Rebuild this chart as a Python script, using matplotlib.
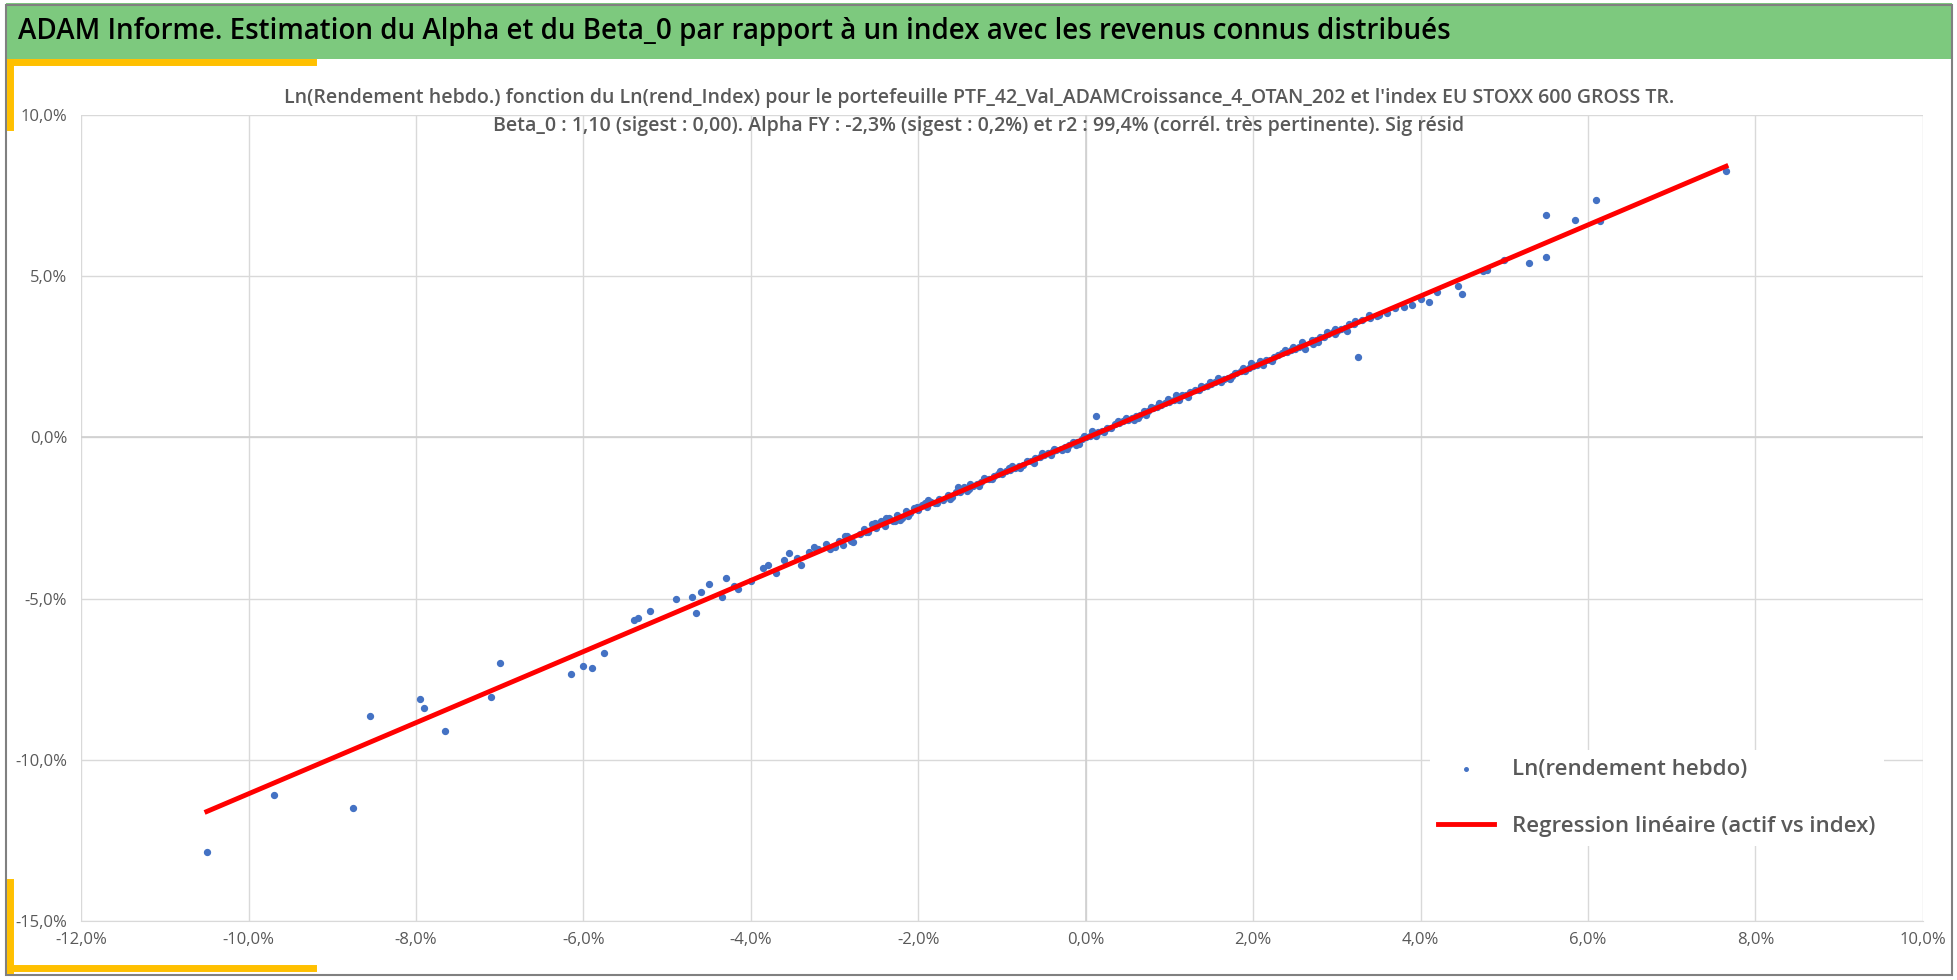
import matplotlib
matplotlib.use("Agg")
import matplotlib.pyplot as plt
from matplotlib.ticker import FuncFormatter
from matplotlib.patches import Rectangle
from matplotlib.lines import Line2D

plt.rcParams['font.family'] = ['Liberation Sans Narrow', 'Open Sans', 'DejaVu Sans']

# points (en %)
index_x = [-10.5, -9.7, -8.75, -8.55, -7.95, -7.9, -7.65, -7.1, -7.0, -6.15, -6.0, -5.9, -5.75,
           -5.4, -5.35, -5.2, -4.9, -4.7, -4.65, -4.6, -4.5, -4.35, -4.3, -4.2, -4.15, -4.0,
           -3.85, -3.8, -3.7, -3.6, -3.55, -3.45, -3.4, -3.3, -3.2, -3.1, -3.05, -2.95, -2.9,
           -2.85, -2.8, -2.7, -2.65, -2.6, -2.55, -2.5, -2.45, -2.4, -2.35, -2.3, -2.25, -2.2,
           -2.15, -2.1, -2.05, -2.0, -1.95, -1.9, -1.85, -1.8, -1.75, -1.7, -1.65, -1.6, -1.55,
           -1.5, -1.45, -1.4, -1.35, -1.3, -1.25, -1.2, -1.15, -1.1, -1.05, -1.0, -0.95, -0.9,
           -0.85, -0.8, -0.75, -0.7, -0.65, -0.6, -0.55, -0.5, -0.45, -0.4, -0.35, -0.3, -0.25,
           -0.2, -0.15, -0.1, -0.05, 0.0, 0.05, 0.1, 0.15, 0.2, 0.25, 0.3, 0.35, 0.4, 0.45, 0.5,
           0.55, 0.6, 0.65, 0.7, 0.75, 0.8, 0.85, 0.9, 0.95, 1.0, 1.05, 1.1, 1.15, 1.2, 1.25,
           1.3, 1.35, 1.4, 1.45, 1.5, 1.55, 1.6, 1.65, 1.7, 1.75, 1.8, 1.85, 1.9, 1.95, 2.0,
           2.05, 2.1, 2.15, 2.2, 2.25, 2.3, 2.35, 2.4, 2.45, 2.5, 2.55, 2.6, 2.7, 2.75, 2.8,
           2.85, 2.9, 2.95, 3.0, 3.05, 3.1, 3.15, 3.2, 3.3, 3.4, 3.5, 3.7, 3.9, 4.1, 4.2, 4.45,
           4.5, 4.75, 4.8, 5.0, 5.3, 5.5, 5.5, 5.85, 6.1, 6.15, 7.65,
           -1.92, -1.42, -0.92, -0.42, 0.08, 0.58, 1.08, 1.58, 2.08, 2.58, -2.22, -1.22, -0.22,
           0.78, 1.78, 2.78, 0.12, 2.98, 3.25, -0.08,
           -2.88, -2.62, -2.38, -2.12, -1.88, -1.62, -1.38, -1.12, -0.88, -0.62, -0.38, -0.12,
           0.12, 0.38, 0.62, 0.88, 1.12, 1.38, 1.62, 1.88, 2.12, 2.38, 2.62, 2.88, 3.12, 3.38,
           -2.78, -2.52, -2.28, -2.02, -1.78, -1.52, -1.28, -1.02, -0.78, -0.52, -0.28, -0.02,
           0.22, 0.48, 0.72, 0.98, 1.22, 1.48, 1.72, 1.98, 2.22, 2.48, 2.72, 2.98, 3.22, 3.48,
           -3.25, -3.0, 3.6, 3.8, 4.0]
portf_y = [-12.85, -11.1, -11.5, -8.65, -8.1, -8.4, -9.1, -8.05, -7.0, -7.35, -7.1, -7.15, -6.7,
           -5.65, -5.6, -5.4, -5.0, -4.95, -5.45, -4.8, -4.55, -4.95, -4.35, -4.6, -4.7, -4.45,
           -4.05, -3.95, -4.2, -3.8, -3.6, -3.75, -3.95, -3.55, -3.45, -3.3, -3.45, -3.2, -3.35,
           -3.05, -3.2, -3.0, -2.85, -2.95, -2.7, -2.8, -2.6, -2.75, -2.5, -2.6, -2.4, -2.5,
           -2.3, -2.35, -2.2, -2.25, -2.1, -2.15, -2.0, -2.05, -1.9, -1.95, -1.8, -1.85, -1.7,
           -1.7, -1.55, -1.6, -1.5, -1.45, -1.4, -1.3, -1.3, -1.2, -1.15, -1.15, -1.05, -1.0,
           -0.95, -0.9, -0.85, -0.75, -0.75, -0.65, -0.6, -0.55, -0.5, -0.45, -0.4, -0.35, -0.3,
           -0.25, -0.15, -0.15, -0.05, 0.0, 0.05, 0.1, 0.15, 0.2, 0.3, 0.3, 0.4, 0.45, 0.5, 0.55,
           0.6, 0.65, 0.7, 0.8, 0.8, 0.9, 0.95, 1.0, 1.05, 1.1, 1.15, 1.2, 1.3, 1.3, 1.4, 1.45,
           1.45, 1.55, 1.6, 1.65, 1.7, 1.75, 1.8, 1.85, 1.9, 2.0, 2.05, 2.05, 2.15, 2.2,
           2.25, 2.3, 2.4, 2.4, 2.5, 2.55, 2.6, 2.65, 2.7, 2.75, 2.8, 2.85, 3.0, 3.0, 3.1,
           3.1, 3.2, 3.25, 3.3, 3.35, 3.4, 3.5, 3.5, 3.65, 3.7, 3.8, 4.0, 4.1, 4.2, 4.5, 4.7,
           4.45, 5.15, 5.2, 5.5, 5.4, 6.9, 5.6, 6.75, 7.35, 6.7, 8.25,
           -2.05, -1.65, -0.95, -0.55, 0.2, 0.55, 1.3, 1.85, 2.35, 2.95, -2.55, -1.25, -0.35,
           0.95, 2.0, 2.95, 0.65, 3.35, 2.5, -0.2,
           -3.05, -2.95, -2.5, -2.45, -1.95, -1.92, -1.45, -1.3, -0.9, -0.8, -0.35, -0.25,
           0.05, 0.5, 0.6, 1.05, 1.15, 1.6, 1.7, 2.15, 2.25, 2.7, 2.75, 3.25, 3.3, 3.8,
           -3.25, -2.65, -2.6, -2.15, -2.05, -1.55, -1.5, -1.05, -0.95, -0.5, -0.4, 0.05,
           0.15, 0.6, 0.7, 1.2, 1.25, 1.7, 1.8, 2.3, 2.35, 2.8, 2.9, 3.2, 3.6, 3.75,
           -3.4, -3.4, 3.85, 4.05, 4.3]
reg_x = [-10.5, 7.65]
reg_y = [-11.6, 8.4]

fig = plt.figure(figsize=(19.58, 9.8), dpi=100)

# bandeau titre
fig.patches.append(Rectangle((0.003, 0.94), 0.994, 0.057, transform=fig.transFigure,
                             facecolor='#7DC97E', edgecolor='none'))
fig.text(0.009, 0.968, "ADAM Informe. Estimation du Alpha et du Beta_0 par rapport à un index avec les revenus connus distribués",
         fontsize=20, fontweight='semibold', va='center', ha='left', color='black')
fig.patches.append(Rectangle((0.003, 0.005), 0.994, 0.99, transform=fig.transFigure,
                             facecolor='none', edgecolor='#808080', lw=1.5))
# accents jaunes
fig.add_artist(Line2D([0.005, 0.005], [0.87, 0.937], transform=fig.transFigure, color='#FFC000', lw=5))
fig.add_artist(Line2D([0.005, 0.16], [0.937, 0.937], transform=fig.transFigure, color='#FFC000', lw=5))
fig.add_artist(Line2D([0.005, 0.005], [0.01, 0.1], transform=fig.transFigure, color='#FFC000', lw=5))
fig.add_artist(Line2D([0.005, 0.16], [0.012, 0.012], transform=fig.transFigure, color='#FFC000', lw=5))

ax = fig.add_axes([0.0415, 0.06, 0.9405, 0.823])
ax.scatter(index_x, portf_y, s=18, color='#4472C4', zorder=3, label='Ln(rendement hebdo)')
ax.plot(reg_x, reg_y, color='#FF0000', lw=3.5, zorder=4, label='Regression linéaire (actif vs index)')

ax.set_xlim(-12, 10)
ax.set_ylim(-15, 10)
ax.set_xticks(range(-12, 11, 2))
ax.set_yticks(range(-15, 11, 5))
fmt = FuncFormatter(lambda v, p: f"{v:.1f}%".replace('.', ','))
ax.xaxis.set_major_formatter(fmt)
ax.yaxis.set_major_formatter(fmt)
ax.tick_params(length=0, labelsize=12, colors='#595959')
ax.tick_params(axis='y', pad=10)
ax.tick_params(axis='x', pad=8)
ax.grid(True, color='#D9D9D9', lw=1)
ax.axhline(0, color='#D0D0D0', lw=1.2, zorder=1)
ax.axvline(0, color='#D0D0D0', lw=1.2, zorder=1)
for s in ax.spines.values():
    s.set_visible(False)
ax.spines['bottom'].set_visible(True)
ax.spines['bottom'].set_color('#D9D9D9')
ax.set_axisbelow(True)

fig.text(0.5, 0.9, "Ln(Rendement hebdo.) fonction du Ln(rend_Index) pour le portefeuille PTF_42_Val_ADAMCroissance_4_OTAN_202 et l'index EU STOXX 600 GROSS TR.",
         ha='center', va='center', fontsize=14, fontweight='semibold', color='#595959')
fig.text(0.5, 0.871, "Beta_0 : 1,10 (sigest : 0,00). Alpha FY : -2,3% (sigest : 0,2%) et r2 : 99,4% (corrél. très pertinente). Sig résid",
         ha='center', va='center', fontsize=14, fontweight='semibold', color='#595959')

leg = ax.legend(loc='lower right', bbox_to_anchor=(0.985, 0.08), frameon=True, facecolor='white',
                edgecolor='none', fontsize=16, labelspacing=1.6, handlelength=2.5,
                markerscale=0.6, framealpha=1)
for t in leg.get_texts():
    t.set_color('#595959')
    t.set_fontweight('semibold')

fig.savefig('out.png', dpi=100)
